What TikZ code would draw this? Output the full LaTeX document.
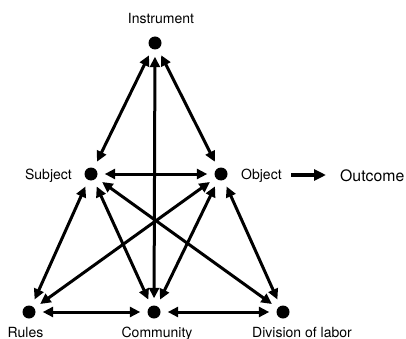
\documentclass[tikz,border=0pt]{standalone}
\usepackage{fontspec}
\setmainfont{TeX Gyre Heros}
\usetikzlibrary{arrows.meta}
\begin{document}
\begin{tikzpicture}[x=1pt,y=-1pt,
  dot/.style={circle,fill=black,inner sep=0pt,minimum size=13pt},
  lbl/.style={inner sep=0pt,font=\fontsize{14}{15}\selectfont},
  link/.style={line width=3pt,{Triangle[length=10.5pt,width=10pt]}-{Triangle[length=10.5pt,width=10pt]},shorten <=7pt,shorten >=7pt},
  outarrow/.style={line width=3.2pt,-{Triangle[length=12pt,width=11pt]}}]
\useasboundingbox (0,0) rectangle (406,339);
% dots
\node[dot] (ins) at (155,43) {};
\node[dot] (sub) at (91,174) {};
\node[dot] (obj) at (221,174) {};
\node[dot] (rul) at (29,312) {};
\node[dot] (com) at (154,312) {};
\node[dot] (div) at (283,312) {};
% labels
\node[lbl,anchor=base] (insl) at (161,24) {Instrument};
\node[lbl,anchor=base east] (subl) at (72,179) {Subject};
\node[lbl,anchor=base west] (objl) at (241,179) {Object};
\node[lbl,anchor=base] (rull) at (25.5,337) {Rules};
\node[lbl,anchor=base] (coml) at (157,337) {Community};
\node[lbl,anchor=base] (divl) at (302,337) {Division of labor};
\node[inner sep=0pt,anchor=base west,font=\fontsize{15.8}{18}\selectfont] (outl) at (340,181) {Outcome};
\coordinate (oa) at (291,175);
\coordinate (ob) at (326,175);
% links
\draw[link] (ins) -- (sub);
\draw[link] (ins) -- (obj);
\draw[link] (ins) -- (com);
\draw[link] (sub) -- (obj);
\draw[link] (sub) -- (rul);
\draw[link] (sub) -- (com);
\draw[link] (sub) -- (div);
\draw[link] (obj) -- (rul);
\draw[link] (obj) -- (com);
\draw[link] (obj) -- (div);
\draw[link] (rul) -- (com);
\draw[link] (com) -- (div);
\draw[outarrow] (oa) -- (ob);
\end{tikzpicture}
\end{document}
